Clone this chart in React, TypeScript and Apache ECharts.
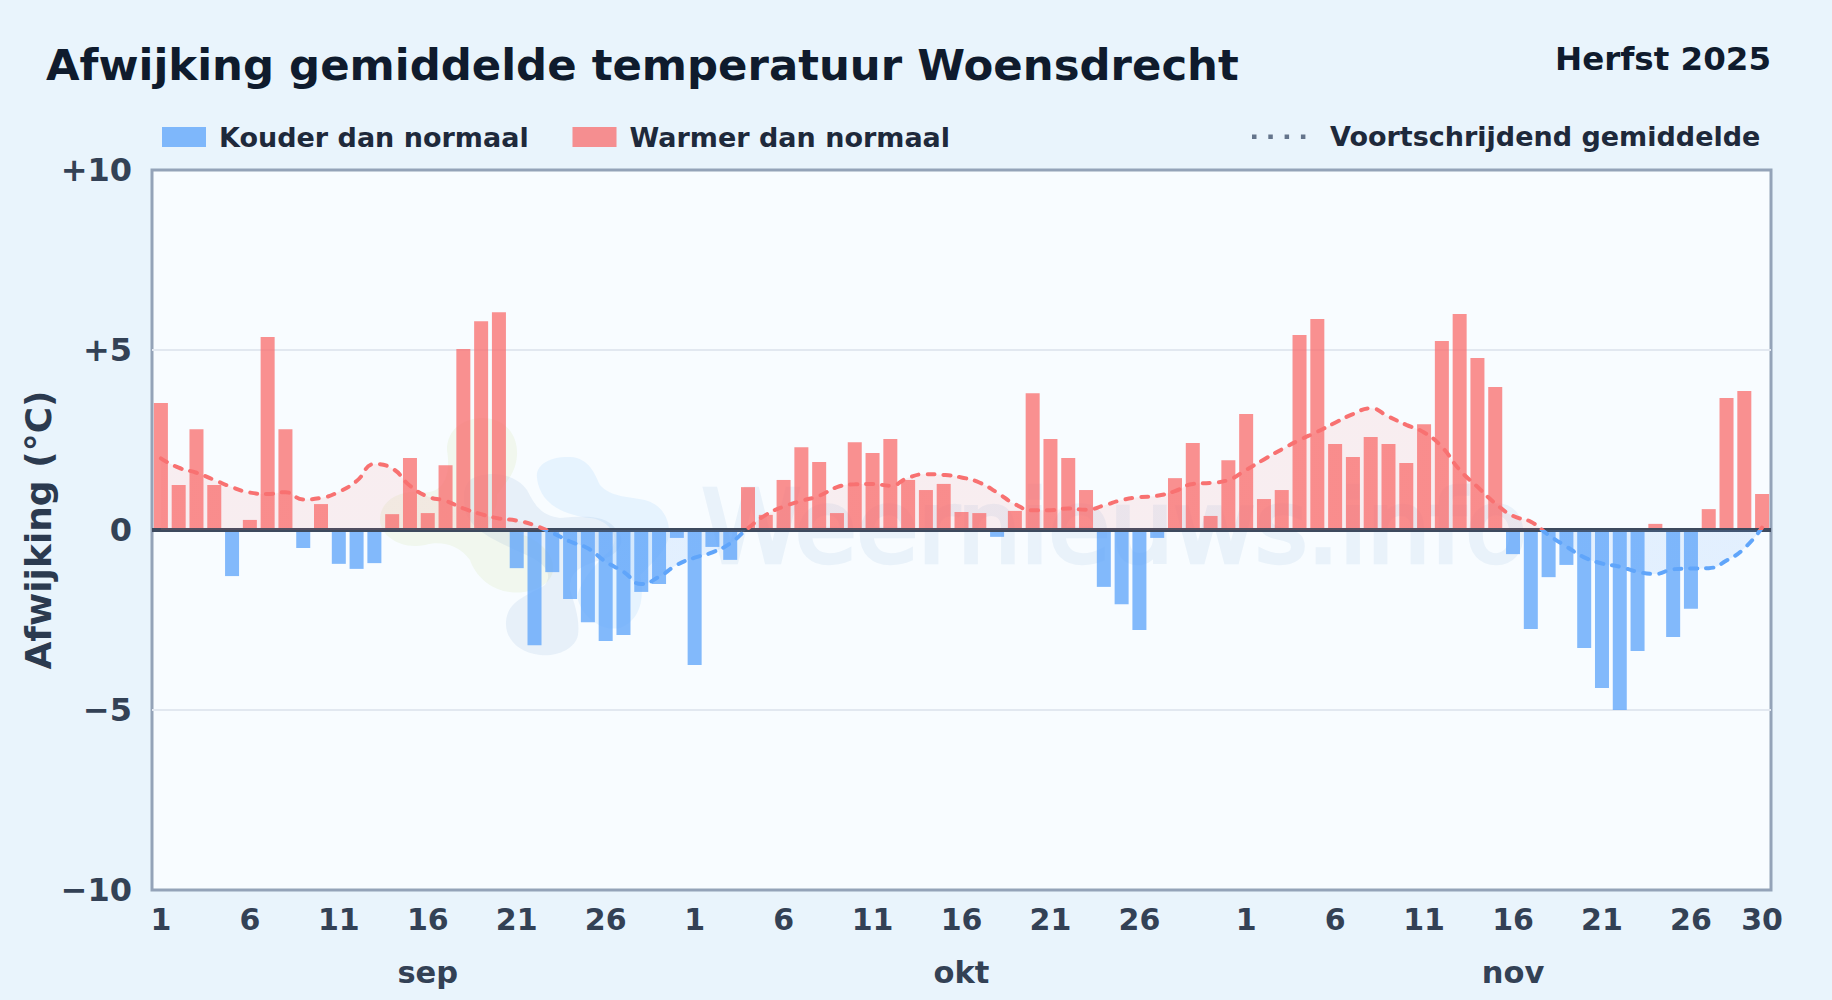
import React, { useEffect, useRef } from "react";
import * as echarts from "echarts";

const FONT = "'DejaVu Sans', sans-serif";

const titleText = "Afwijking gemiddelde temperatuur Woensdrecht";
const periodText = "Herfst 2025";
const legendCold = "Kouder dan normaal";
const legendWarm = "Warmer dan normaal";
const legendAvg = "Voortschrijdend gemiddelde";
const yAxisName = "Afwijking (°C)";
const watermark = "Weernieuws.info";

const monthDays = [30, 31, 30];
const monthNames = ["sep", "okt", "nov"];
const shownDays = [
  [1, 6, 11, 16, 21, 26],
  [1, 6, 11, 16, 21, 26],
  [1, 6, 11, 16, 21, 26, 30],
];

const deviation = [
  3.53, 1.25, 2.8, 1.25, -1.28, 0.28, 5.36, 2.8, -0.5, 0.72, -0.94, -1.08, -0.92, 0.44, 2.0, 0.47, 1.8, 5.03, 5.8, 6.05,
  -1.06, -3.2, -1.17, -1.92, -2.56, -3.08, -2.92, -1.72, -1.5, -0.22,
  -3.75, -0.47, -0.83, 1.19, 0.42, 1.39, 2.3, 1.89, 0.47, 2.44, 2.14, 2.53, 1.39, 1.11, 1.28, 0.5, 0.47, -0.19, 0.53, 3.8,
  2.53, 2.0, 1.11, -1.58, -2.06, -2.78, -0.22, 1.44, 2.42, 0.39, 1.94,
  3.22, 0.86, 1.11, 5.42, 5.86, 2.39, 2.03, 2.58, 2.39, 1.86, 2.94, 5.25, 6.0, 4.78, 3.97,
  -0.67, -2.75, -1.31, -0.97, -3.28, -4.39, -5.0, -3.36, 0.17, -2.97, -2.19, 0.58, 3.67, 3.86, 1.0,
];

const movingAverage = [
  1.99, 1.73, 1.59, 1.39, 1.19, 1.04, 1.0, 1.05, 0.85, 0.89, 1.06, 1.36, 1.83, 1.71, 1.23, 0.93, 0.81, 0.6, 0.44, 0.32,
  0.26, 0.13, -0.08, -0.32, -0.51, -0.88, -1.16, -1.5, -1.3, -0.97,
  -0.77, -0.62, -0.37, 0.05, 0.42, 0.65, 0.81, 0.95, 1.19, 1.27, 1.28, 1.23, 1.45, 1.55, 1.53, 1.46, 1.32, 1.04, 0.72, 0.55,
  0.55, 0.6, 0.56, 0.68, 0.83, 0.91, 0.95, 1.08, 1.28, 1.31, 1.39,
  1.67, 1.96, 2.24, 2.5, 2.73, 2.98, 3.22, 3.38, 3.15, 2.92, 2.71, 2.31, 1.67, 1.2, 0.74,
  0.39, 0.23, -0.14, -0.46, -0.76, -0.93, -1.02, -1.16, -1.22, -1.09, -1.07, -1.06, -0.85, -0.51, 0.07,
];

const yTickLabels: Record<string, string> = { "10": "+10", "5": "+5", "0": "0", "-5": "\u22125", "-10": "\u221210" };

const dayLabels: string[] = [];
const monthLabels: string[] = [];
monthDays.forEach((n, m) => {
  for (let d = 1; d <= n; d++) {
    dayLabels.push(shownDays[m].includes(d) ? String(d) : "");
    monthLabels.push(d === 16 ? monthNames[m] : "");
  }
});
const coldValues = deviation.map((v) => (v < 0 ? v : null));
const warmValues = deviation.map((v) => (v >= 0 ? v : null));

// Splits one stroke or fill at the zero line (plot spans y 170..890).
const splitAtZero = (above: string, below: string) => ({
  type: "linear",
  x: 0,
  y: 170,
  x2: 0,
  y2: 890,
  global: true,
  colorStops: [
    { offset: 0, color: above },
    { offset: 0.5, color: above },
    { offset: 0.5, color: below },
    { offset: 1, color: below },
  ],
});

echarts.graphic.registerShape(
  "wmGreen",
  echarts.graphic.extendPath(
    "M447,450 C447,428 465,418 483,418 C505,418 518,435 517,455 C516,475 503,485 497,495 C500,510 480,530 495,530 C530,530 555,550 553,570 C552,585 530,595 510,592 C490,590 475,575 470,560 C460,545 440,540 425,545 C400,550 380,535 380,520 C380,500 400,490 420,492 C440,495 452,480 447,450Z",
    {}
  )
);
echarts.graphic.registerShape(
  "wmDark",
  echarts.graphic.extendPath(
    "M470,480 C485,470 515,472 527,490 C535,505 540,515 560,518 C585,516 605,515 615,528 C628,540 620,555 600,560 C585,565 568,570 570,590 C575,605 580,620 578,635 C575,650 555,657 540,655 C520,653 505,640 506,622 C507,600 530,595 545,585 C555,570 540,560 515,550 C495,540 470,530 465,510 C463,495 463,488 470,480Z",
    {}
  )
);
echarts.graphic.registerShape(
  "wmLight",
  echarts.graphic.extendPath(
    "M537,478 C535,462 555,456 570,457 C590,458 595,475 600,485 C610,497 630,497 645,500 C665,505 672,525 668,540 C662,555 650,565 640,575 C645,600 640,620 620,628 C600,632 582,615 578,600 C575,590 590,570 605,555 C625,540 610,520 590,518 C565,515 540,505 537,478Z",
    {}
  )
);

export default function App() {
  const ref = useRef<HTMLDivElement>(null);
  useEffect(() => {
    document.body.style.margin = "0";
    const chart = echarts.init(ref.current!, null, { renderer: "svg" });
    const legendBase = {
      top: 118.5,
      itemWidth: 44,
      itemHeight: 20,
      icon: "rect",
      selectedMode: false,
      textStyle: { fontFamily: FONT, fontWeight: "bold", fontSize: 27, color: "#1e293b", padding: [0, 0, 0, 8] },
    };
    chart.setOption({
      animation: false,
      backgroundColor: "#e9f4fc",
      textStyle: { fontFamily: FONT },
      grid: {
        show: true,
        left: 152,
        right: 61,
        top: 170,
        bottom: 110,
        containLabel: false,
        backgroundColor: "#f8fcff",
        borderColor: "#94a3b8",
        borderWidth: 3,
      },
      legend: [
        { ...legendBase, left: 157, data: [legendCold] },
        { ...legendBase, left: 567.5, data: [legendWarm] },
      ],
      xAxis: [
        {
          type: "category",
          data: dayLabels,
          position: "bottom",
          axisLine: { show: false, onZero: false },
          axisTick: { show: false },
          splitLine: { show: false },
          axisLabel: {
            interval: (i: number) => dayLabels[i] !== "",
            margin: 14,
            fontFamily: FONT,
            fontWeight: "bold",
            fontSize: 30,
            color: "#334155",
          },
        },
        {
          type: "category",
          data: monthLabels,
          position: "bottom",
          axisLine: { show: false, onZero: false },
          axisTick: { show: false },
          splitLine: { show: false },
          axisLabel: {
            interval: (i: number) => monthLabels[i] !== "",
            margin: 67,
            fontFamily: FONT,
            fontWeight: "bold",
            fontSize: 30.5,
            color: "#334155",
          },
        },
      ],
      yAxis: {
        type: "value",
        min: -10,
        max: 10,
        interval: 5,
        name: yAxisName,
        nameLocation: "middle",
        nameGap: 96,
        nameMoveOverlap: false,
        nameTextStyle: { fontFamily: FONT, fontWeight: "bold", fontSize: 36, color: "#2b3a4f" },
        axisLine: { show: false },
        axisTick: { show: false },
        splitLine: {
          show: true,
          showMinLine: false,
          showMaxLine: false,
          lineStyle: { color: "#e2e8f0", width: 2 },
        },
        axisLabel: {
          margin: 20,
          fontFamily: FONT,
          fontWeight: "bold",
          fontSize: 32,
          color: "#334155",
          formatter: (v: number) => yTickLabels[String(v)] ?? String(v),
        },
      },
      series: [
        {
          name: legendCold,
          type: "bar",
          data: coldValues,
          barWidth: 14,
          barGap: "-100%",
          itemStyle: { color: "rgba(96,165,250,0.78)" },
          z: 2,
        },
        {
          name: legendWarm,
          type: "bar",
          data: warmValues,
          barWidth: 14,
          barGap: "-100%",
          itemStyle: { color: "rgba(248,113,113,0.78)" },
          z: 2,
        },
        {
          name: legendAvg,
          type: "line",
          data: movingAverage,
          smooth: 0.5,
          showSymbol: false,
          symbol: "none",
          lineStyle: { width: 4, type: [7, 9], cap: "round", color: splitAtZero("#f87171", "#60a5fa") },
          areaStyle: { color: splitAtZero("rgba(248,113,113,0.15)", "rgba(96,165,250,0.2)") },
          z: 4,
          markLine: {
            silent: true,
            symbol: "none",
            z: 3,
            label: { show: false },
            lineStyle: { color: "#3d4a5e", width: 4, type: "solid" },
            data: [{ yAxis: 0 }],
          },
        },
      ],
      graphic: [
        { type: "wmGreen", z: 1, silent: true, style: { fill: "rgba(190,220,120,0.13)" } },
        { type: "wmDark", z: 1, silent: true, style: { fill: "rgba(90,140,200,0.1)" } },
        { type: "wmLight", z: 1, silent: true, style: { fill: "rgba(56,160,248,0.09)" } },
        {
          type: "text",
          z: 1,
          silent: true,
          x: 702,
          y: 527,
          style: {
            text: watermark,
            font: `100px ${FONT}`,
            fill: "#e9f2fa",
            stroke: "#e9f2fa",
            lineWidth: 4.5,
            textVerticalAlign: "middle",
          },
        },
        {
          type: "text",
          x: 46,
          y: 65,
          z: 10,
          style: {
            text: titleText,
            font: `bold 43.4px ${FONT}`,
            fill: "#0f1b2d",
            textVerticalAlign: "middle",
          },
        },
        {
          type: "text",
          x: 1771,
          y: 59,
          z: 10,
          style: {
            text: periodText,
            font: `bold 32.5px ${FONT}`,
            fill: "#0f1b2d",
            textAlign: "right",
            textVerticalAlign: "middle",
          },
        },
        ...[0, 1, 2, 3].map((i) => ({
          type: "rect",
          z: 10,
          shape: { x: 1252 + i * 16.3, y: 134.5, width: 4.5, height: 4.5 },
          style: { fill: "#64748b" },
        })),
        {
          type: "text",
          x: 1330,
          y: 136,
          z: 10,
          style: {
            text: legendAvg,
            font: `bold 27px ${FONT}`,
            fill: "#1e293b",
            textVerticalAlign: "middle",
          },
        },
      ],
    });
    return () => chart.dispose();
  }, []);
  return <div ref={ref} style={{ width: 1832, height: 1000 }} />;
}
